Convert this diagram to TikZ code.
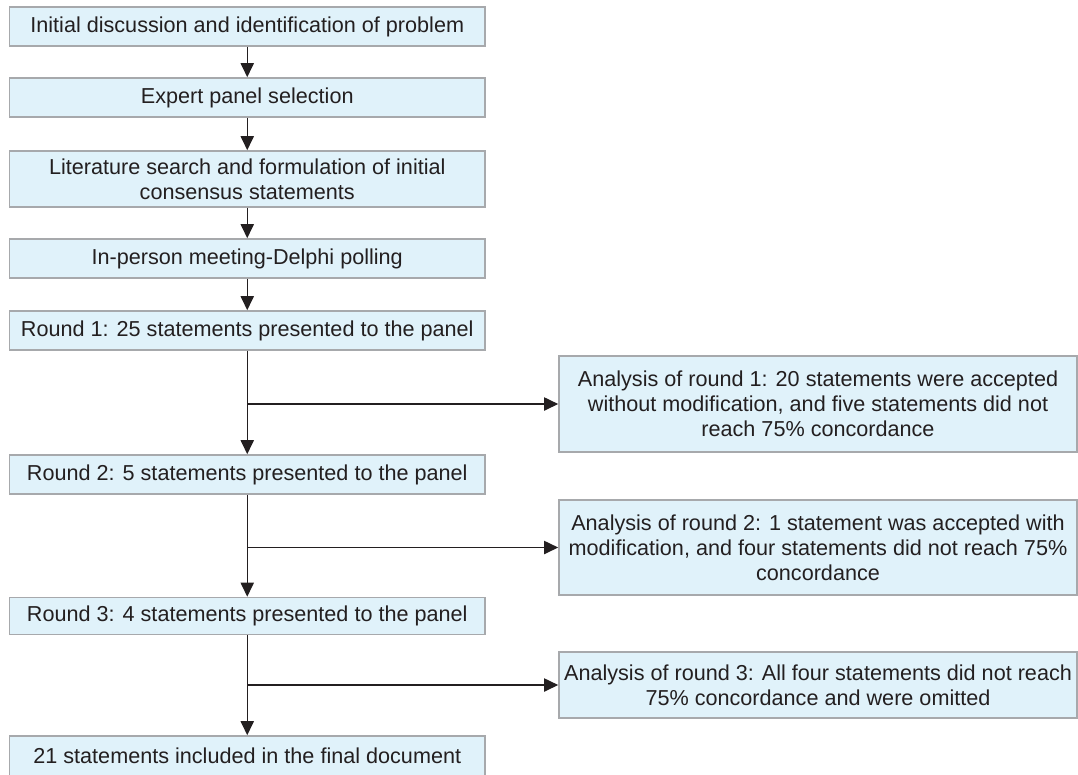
\documentclass[tikz,border=0pt]{standalone}
\usepackage{fontspec}
\setmainfont{Liberation Sans}
\usetikzlibrary{arrows.meta}

\definecolor{boxfill}{HTML}{E0F2FA}
\definecolor{boxline}{HTML}{A7A9AC}
\definecolor{ink}{HTML}{231F20}

\tikzset{
	stage/.style={draw=boxline, fill=boxfill, line width=0.9pt, text=ink, align=center,
		inner sep=0pt, minimum width=95.1mm, minimum height=7.8mm,
		font=\fontsize{12.3}{14.3}\selectfont},
	review/.style={stage, minimum width=103.6mm},
	flow/.style={draw=ink, line width=0.8pt, -{Triangle[length=8pt,width=7.5pt]}}
}

\begin{document}
\begin{tikzpicture}[x=0.2mm, y=-0.2mm]
			%%%%% START %%%%%
			\useasboundingbox (0, 0) rectangle (1078, 774);
			
			\node[stage] (problem) at (247.25, 26.5) {Initial discussion and identification of problem};
			\node[stage] (panel) at (247.25, 97.5) {Expert panel selection};
			\node[stage, minimum height=11.2mm] (search) at (247.25, 179) {Literature search and formulation of initial\\consensus statements};
			\node[stage] (meeting) at (247.25, 258.5) {In-person meeting-Delphi polling};
			
			\node[stage] (roundA) at (247.25, 330.5) {Round 1: 25 statements presented to the panel};
			\node[stage] (roundB) at (247.25, 474.5) {Round 2: 5 statements presented to the panel};
			\node[stage, minimum height=7.4mm] (roundC) at (247.25, 616) {Round 3: 4 statements presented to the panel};
			\node[stage, minimum height=8mm] (final) at (247.25, 756) {21 statements included in the final document};
			
			\node[review, minimum height=19.2mm] (anaA) at (818, 404) {Analysis of round 1: 20 statements were accepted\\without modification, and five statements did not\\reach 75\% concordance};
			\node[review, minimum height=19mm] (anaB) at (818, 547.5) {Analysis of round 2: 1 statement was accepted with\\modification, and four statements did not reach 75\%\\concordance};
			\node[review, minimum height=13.2mm] (anaC) at (818, 685) {Analysis of round 3: All four statements did not reach\\75\% concordance and were omitted};
			
			\draw[flow] (problem) -- (panel);
			\draw[flow] (panel) -- (search);
			\draw[flow] (search) -- (meeting);
			\draw[flow] (meeting) -- (roundA);
			\draw[flow] (roundA) -- (roundB);
			\draw[flow] (roundB) -- (roundC);
			\draw[flow] (roundC) -- (final);
			
			\coordinate (splitA) at (roundA.south |- anaA.west);
			\coordinate (splitB) at (roundB.south |- anaB.west);
			\coordinate (splitC) at (roundC.south |- anaC.west);
			\draw[flow] (splitA) -- (anaA.west);
			\draw[flow] (splitB) -- (anaB.west);
			\draw[flow] (splitC) -- (anaC.west);
			
			%%%%% END %%%%%
\end{tikzpicture}
\end{document}
